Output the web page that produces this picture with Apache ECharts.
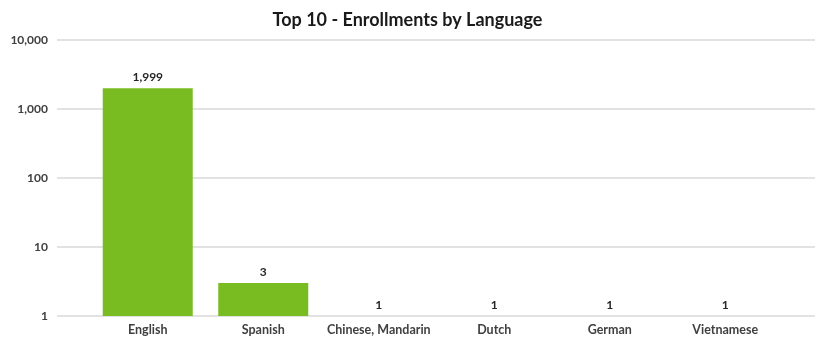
<!DOCTYPE html>
<html>
<head>
<meta charset="utf-8">
<script src="https://cdn.jsdelivr.net/npm/echarts@6/dist/echarts.min.js"></script>
<style>html,body{margin:0;padding:0;background:#fff}#c{width:815px;height:341px}</style>
</head>
<body>
<div id="c"></div>
<script>
const categories = ["English", "Spanish", "Chinese, Mandarin", "Dutch", "German", "Vietnamese"];
const enrollments = [1999, 3, 1, 1, 1, 1];
const titleText = "Top 10 - Enrollments by Language";

const FONT = "Lato";
const chart = echarts.init(document.getElementById('c'), null, {renderer: 'canvas'});
const fmt = v => Number(v).toLocaleString('en-US');
chart.setOption({
  animation: false,
  backgroundColor: '#ffffff',
  title: {
    text: titleText, left: 'center', top: 6,
    textStyle: {fontFamily: FONT, fontWeight: 'bold', fontSize: 18, color: '#1a1a1a'}
  },
  grid: [
    {left: 57, right: 0, top: 40, bottom: 25},
    {left: 90, right: 32, top: 40, bottom: 25}
  ],
  xAxis: [
    {gridIndex: 0, type: 'category', data: categories, show: false},
    {gridIndex: 1, type: 'category', data: categories,
     axisLine: {show: false}, axisTick: {show: false},
     axisLabel: {interval: 0, fontFamily: FONT, fontWeight: 'bold', fontSize: 12.5, color: '#404040', margin: 7}}
  ],
  yAxis: [
    {gridIndex: 0, type: 'log', logBase: 10, min: 1, max: 10000,
     axisLine: {show: false}, axisTick: {show: false},
     axisLabel: {fontFamily: FONT, fontWeight: 'bold', fontSize: 12, color: '#404040', margin: 9, formatter: fmt},
     splitLine: {show: true, lineStyle: {color: '#e2e2e2', width: 2}}},
    {gridIndex: 1, type: 'log', logBase: 10, min: 1, max: 10000, show: false,
     splitLine: {show: false}}
  ],
  series: [{
    type: 'bar', xAxisIndex: 1, yAxisIndex: 1,
    data: enrollments, barWidth: 90,
    itemStyle: {color: '#78bc22'},
    label: {show: true, position: 'top', distance: 5, formatter: p => fmt(p.value),
      fontFamily: FONT, fontWeight: 'bold', fontSize: 12, color: '#262626'}
  }]
});
</script>
</body>
</html>
